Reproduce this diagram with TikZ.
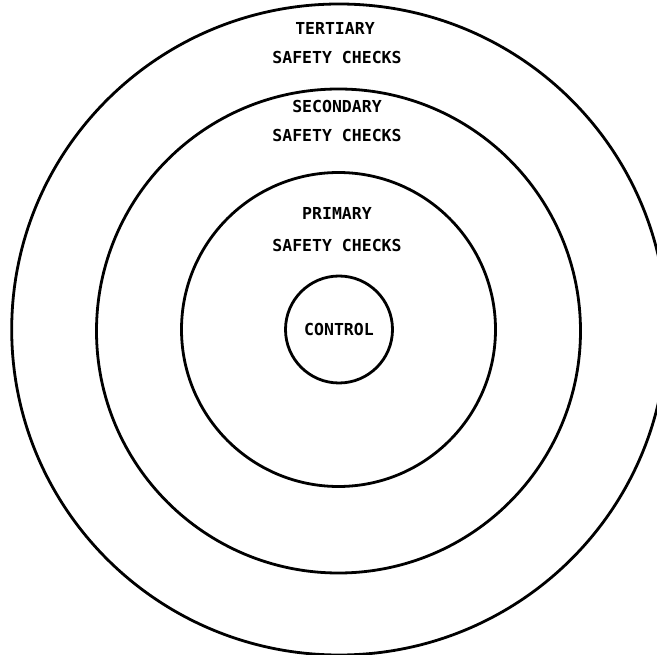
\documentclass[tikz,border=0pt]{standalone}
\usetikzlibrary{shapes.geometric}
\usepackage{fontspec}
\setmonofont{DejaVu Sans Mono}
\begin{document}
\begin{tikzpicture}[x=1pt,y=-1pt,
  ring/.style={draw=black, circle, line width=2.8pt, inner sep=0pt},
  lbl/.style={font=\ttfamily\bfseries\fontsize{16.5}{18}\selectfont, text=black, inner sep=0pt}]
\useasboundingbox (0,0) rectangle (657,655);
\fill[white] (0,0) rectangle (657,655);
\node[ring, ellipse, minimum width=655pt, minimum height=651pt] (tertiary) at (339.2,329.5) {};
\node[ring, minimum size=484pt] (secondary) at (338.5,331) {};
\node[ring, minimum size=314pt] (primary) at (338.5,329.5) {};
\node[ring, minimum size=107pt] (control) at (339,329.5) {};
\node[lbl] (t1) at (335,28) {TERTIARY};
\node[lbl] (t2) at (337,57) {SAFETY CHECKS};
\node[lbl] (s1) at (337,106) {SECONDARY};
\node[lbl] (s2) at (337,135) {SAFETY CHECKS};
\node[lbl] (p1) at (337,213) {PRIMARY};
\node[lbl] (p2) at (337,245) {SAFETY CHECKS};
\node[lbl] (c1) at (339,329) {CONTROL};
\end{tikzpicture}
\end{document}
